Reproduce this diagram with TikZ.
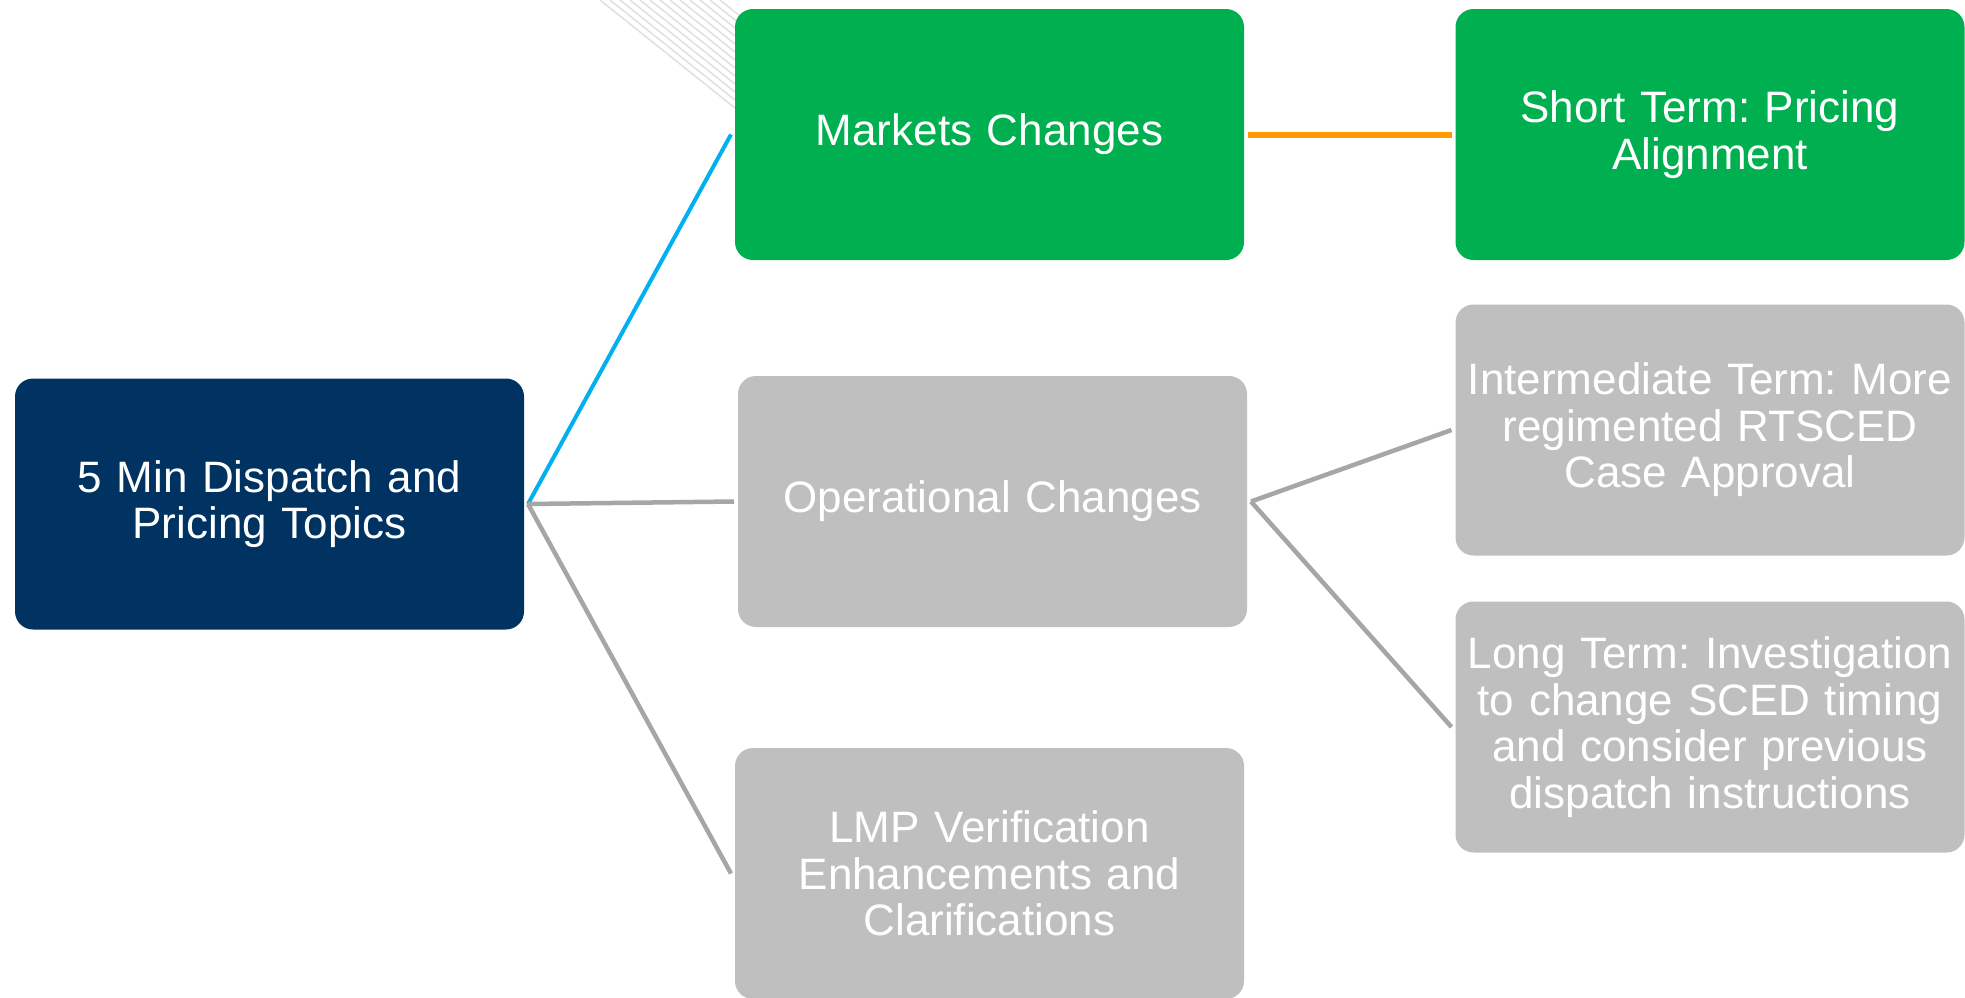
\documentclass[tikz,border=0pt]{standalone}
\usepackage{fontspec}
\setmainfont{Liberation Sans}
\frenchspacing
\definecolor{navy}{RGB}{0,50,98}
\definecolor{mgreen}{RGB}{0,176,80}
\definecolor{mgrey}{RGB}{191,191,191}
\definecolor{lgrey}{RGB}{166,166,166}
\definecolor{lblue}{RGB}{0,176,240}
\definecolor{morange}{RGB}{255,153,0}
\definecolor{fanc}{RGB}{225,225,225}
\begin{document}
\begin{tikzpicture}[x=1pt,y=-1pt,
  box/.style={rounded corners=18pt, minimum width=509pt, minimum height=251pt,
    text width=500pt, align=center, inner sep=0pt, outer sep=4pt, text=white,
    font=\fontsize{44}{46.5}\selectfont},
  rootbox/.style={box, fill=navy},
  greenbox/.style={box, fill=mgreen},
  greybox/.style={box, fill=mgrey},
  conn/.style={line width=4.5pt, lgrey},
  blueconn/.style={line width=4pt, lblue},
  orangeconn/.style={line width=6pt, morange}
]
\useasboundingbox (0,0) rectangle (1965,997);
\fill[white] (0,0) rectangle (1965,997);
% faint background fan
\foreach \i in {0,...,12}{
  \draw[fanc, line width=1.5pt] (600+10*\i,0) -- ++(135,108);
}
\node[rootbox] (root) at (269.5,504) {5 Min Dispatch and\\Pricing Topics};
\node[greenbox] (mkt) at (989.5,134.5) {Markets Changes};
\node[greybox] (ops) at (992.5,501.5) {Operational Changes};
\node[greybox] (lmp) at (989.5,873.5) {LMP Verification\\Enhancements and\\Clarifications};
\node[greenbox] (short) at (1710,134.5) {Short Term: Pricing\\Alignment};
\node[greybox] (inter) at (1710,430) {Intermediate Term: More\\regimented RTSCED\\Case Approval};
\node[greybox] (long) at (1710,727) {Long Term: Investigation\\to change SCED timing\\and consider previous\\dispatch instructions};
\draw[blueconn] (root.east) -- (mkt.west);
\draw[conn] (root.east) -- (ops.west);
\draw[conn] (root.east) -- (lmp.west);
\draw[orangeconn] (mkt.east) -- (short.west);
\draw[conn] (ops.east) -- (inter.west);
\draw[conn] (ops.east) -- (long.west);
\end{tikzpicture}
\end{document}
